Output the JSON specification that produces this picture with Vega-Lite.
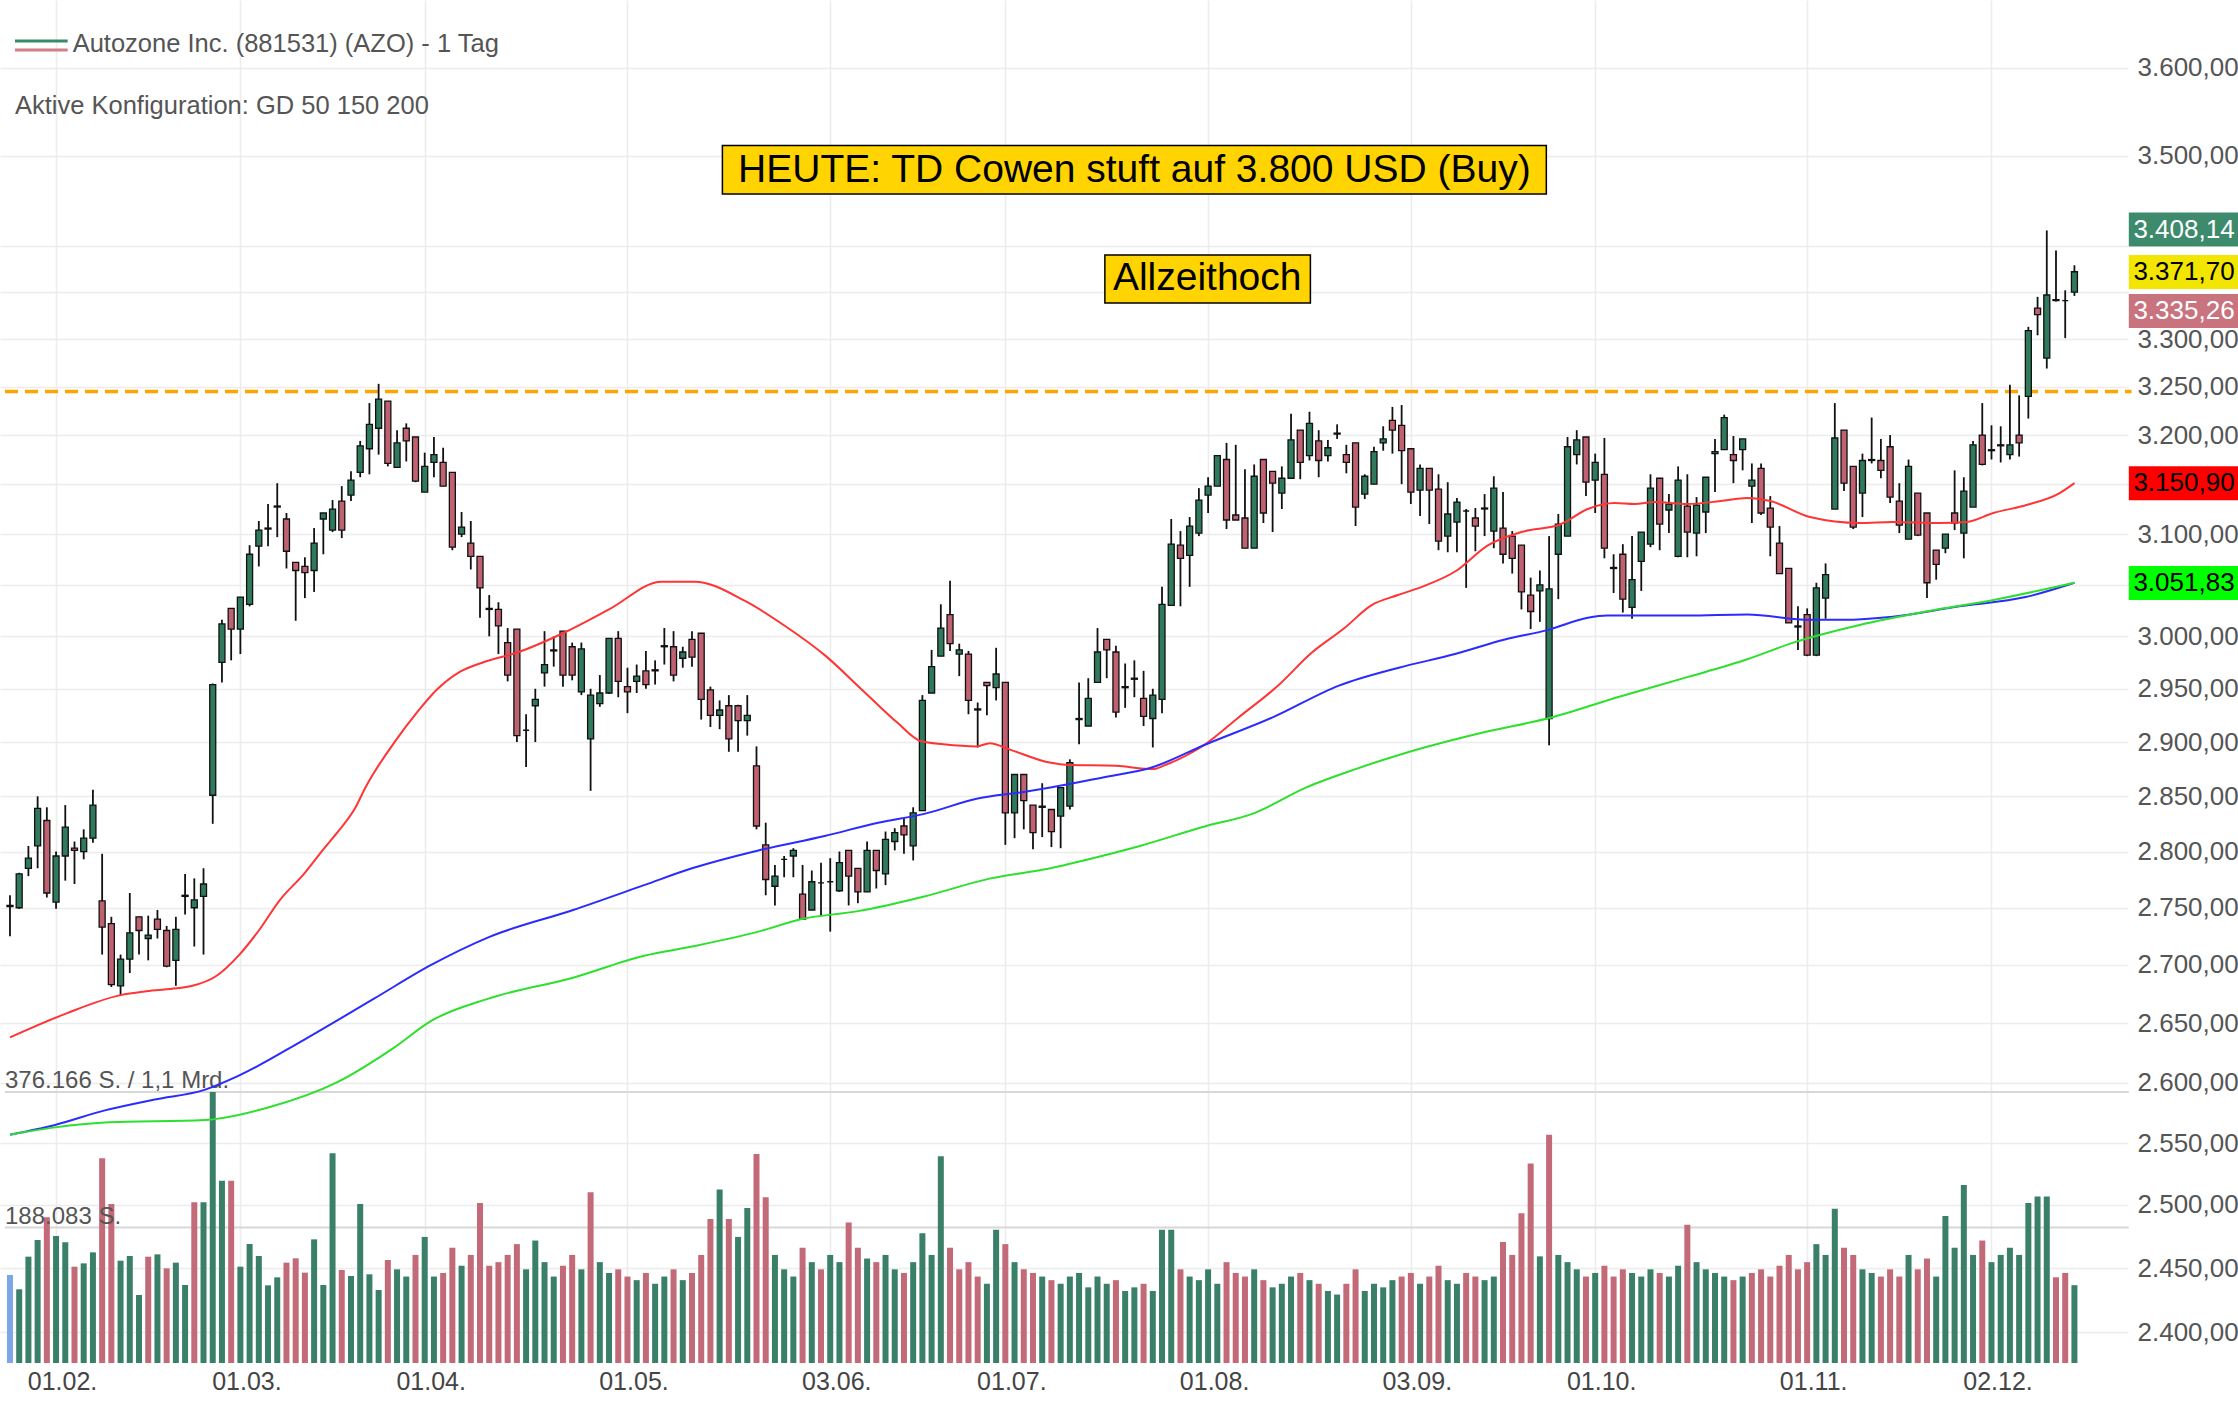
{
"$schema":"https://vega.github.io/schema/vega-lite/v6.json",
"width":2128,"height":1363,
"autosize":{"type":"none"},
"padding":{"left":0,"top":0,"right":110,"bottom":41},
"background":"white",
"config":{"view":{"stroke":null},"font":"Liberation Sans",
"locale":{"number":{"decimal":",","thousands":".","grouping":[3],"currency":["","\u00a0€"]}},
"axis":{"domain":false,"ticks":false,"gridColor":"#ececec","gridWidth":1.5,"labelFont":"Liberation Sans","labelFontSize":26}},
"datasets":{
"k":[
{"i":0,"o":2751,"h":2761,"l":2725,"c":2752,"v":122200,"vd":"n"},
{"i":1,"o":2750,"h":2781,"l":2749,"c":2780,"v":102300,"vd":"up"},
{"i":2,"o":2785,"h":2805,"l":2778,"c":2794,"v":147600,"vd":"up"},
{"i":3,"o":2805,"h":2850,"l":2785,"c":2839,"v":170700,"vd":"up"},
{"i":4,"o":2828,"h":2840,"l":2759,"c":2763,"v":202200,"vd":"dn"},
{"i":5,"o":2755,"h":2800,"l":2749,"c":2796,"v":176300,"vd":"up"},
{"i":6,"o":2796,"h":2842,"l":2774,"c":2822,"v":167500,"vd":"up"},
{"i":7,"o":2803,"h":2809,"l":2771,"c":2801,"v":133700,"vd":"dn"},
{"i":8,"o":2800,"h":2820,"l":2793,"c":2812,"v":138300,"vd":"up"},
{"i":9,"o":2812,"h":2856,"l":2808,"c":2842,"v":153600,"vd":"up"},
{"i":10,"o":2756,"h":2798,"l":2709,"c":2733,"v":284100,"vd":"dn"},
{"i":11,"o":2736,"h":2742,"l":2681,"c":2683,"v":220700,"vd":"dn"},
{"i":12,"o":2682,"h":2709,"l":2674,"c":2705,"v":142000,"vd":"up"},
{"i":13,"o":2705,"h":2763,"l":2693,"c":2728,"v":148500,"vd":"up"},
{"i":14,"o":2742,"h":2742,"l":2709,"c":2730,"v":94400,"vd":"up"},
{"i":15,"o":2723,"h":2743,"l":2704,"c":2726,"v":147600,"vd":"dn"},
{"i":16,"o":2740,"h":2748,"l":2723,"c":2731,"v":150800,"vd":"up"},
{"i":17,"o":2730,"h":2734,"l":2698,"c":2699,"v":131400,"vd":"dn"},
{"i":18,"o":2704,"h":2742,"l":2682,"c":2731,"v":139300,"vd":"up"},
{"i":19,"o":2760,"h":2780,"l":2744,"c":2761,"v":108300,"vd":"up"},
{"i":20,"o":2750,"h":2776,"l":2716,"c":2757,"v":223000,"vd":"dn"},
{"i":21,"o":2760,"h":2785,"l":2709,"c":2771,"v":223000,"vd":"up"},
{"i":22,"o":2851,"h":2955,"l":2825,"c":2954,"v":376166,"vd":"up"},
{"i":23,"o":2975,"h":3016,"l":2956,"c":3012,"v":253000,"vd":"up"},
{"i":24,"o":3027,"h":3027,"l":2977,"c":3007,"v":253000,"vd":"dn"},
{"i":25,"o":3007,"h":3038,"l":2983,"c":3038,"v":133700,"vd":"up"},
{"i":26,"o":3031,"h":3089,"l":3029,"c":3080,"v":165200,"vd":"up"},
{"i":27,"o":3088,"h":3113,"l":3068,"c":3104,"v":148500,"vd":"up"},
{"i":28,"o":3105,"h":3130,"l":3088,"c":3106,"v":107800,"vd":"up"},
{"i":29,"o":3127,"h":3151,"l":3097,"c":3128,"v":118900,"vd":"up"},
{"i":30,"o":3115,"h":3121,"l":3066,"c":3083,"v":139300,"vd":"dn"},
{"i":31,"o":3072,"h":3072,"l":3015,"c":3064,"v":145300,"vd":"dn"},
{"i":32,"o":3068,"h":3077,"l":3037,"c":3062,"v":125400,"vd":"dn"},
{"i":33,"o":3064,"h":3106,"l":3043,"c":3091,"v":171600,"vd":"up"},
{"i":34,"o":3115,"h":3121,"l":3080,"c":3121,"v":108300,"vd":"up"},
{"i":35,"o":3104,"h":3134,"l":3102,"c":3125,"v":291000,"vd":"up"},
{"i":36,"o":3133,"h":3148,"l":3096,"c":3104,"v":129100,"vd":"dn"},
{"i":37,"o":3139,"h":3163,"l":3133,"c":3154,"v":120800,"vd":"up"},
{"i":38,"o":3162,"h":3194,"l":3157,"c":3189,"v":220700,"vd":"up"},
{"i":39,"o":3186,"h":3233,"l":3160,"c":3211,"v":123100,"vd":"up"},
{"i":40,"o":3207,"h":3253,"l":3180,"c":3237,"v":101300,"vd":"up"},
{"i":41,"o":3235,"h":3235,"l":3168,"c":3171,"v":143000,"vd":"dn"},
{"i":42,"o":3167,"h":3205,"l":3167,"c":3192,"v":130000,"vd":"up"},
{"i":43,"o":3207,"h":3212,"l":3173,"c":3194,"v":120000,"vd":"up"},
{"i":44,"o":3198,"h":3198,"l":3152,"c":3153,"v":150000,"vd":"dn"},
{"i":45,"o":3142,"h":3182,"l":3142,"c":3168,"v":175000,"vd":"up"},
{"i":46,"o":3172,"h":3198,"l":3157,"c":3180,"v":120000,"vd":"up"},
{"i":47,"o":3172,"h":3187,"l":3148,"c":3148,"v":125000,"vd":"dn"},
{"i":48,"o":3162,"h":3162,"l":3084,"c":3087,"v":160000,"vd":"dn"},
{"i":49,"o":3100,"h":3122,"l":3097,"c":3107,"v":135000,"vd":"up"},
{"i":50,"o":3091,"h":3113,"l":3065,"c":3078,"v":150000,"vd":"dn"},
{"i":51,"o":3078,"h":3078,"l":3018,"c":3047,"v":222000,"vd":"dn"},
{"i":52,"o":3026,"h":3040,"l":3000,"c":3027,"v":135000,"vd":"dn"},
{"i":53,"o":3026,"h":3033,"l":2983,"c":3010,"v":140000,"vd":"dn"},
{"i":54,"o":2994,"h":3008,"l":2957,"c":2963,"v":150000,"vd":"dn"},
{"i":55,"o":3007,"h":3007,"l":2900,"c":2906,"v":165000,"vd":"dn"},
{"i":56,"o":2911,"h":2926,"l":2877,"c":2911,"v":130000,"vd":"up"},
{"i":57,"o":2934,"h":2950,"l":2900,"c":2940,"v":170000,"vd":"up"},
{"i":58,"o":2965,"h":3005,"l":2952,"c":2973,"v":140000,"vd":"up"},
{"i":59,"o":2986,"h":3000,"l":2971,"c":2987,"v":120000,"vd":"up"},
{"i":60,"o":3005,"h":3005,"l":2952,"c":2963,"v":135000,"vd":"dn"},
{"i":61,"o":2990,"h":2994,"l":2958,"c":2963,"v":150000,"vd":"dn"},
{"i":62,"o":2947,"h":2994,"l":2944,"c":2988,"v":130000,"vd":"up"},
{"i":63,"o":2903,"h":2950,"l":2855,"c":2944,"v":237000,"vd":"dn"},
{"i":64,"o":2936,"h":2963,"l":2933,"c":2946,"v":140000,"vd":"up"},
{"i":65,"o":2946,"h":2998,"l":2945,"c":2998,"v":125000,"vd":"up"},
{"i":66,"o":2998,"h":3005,"l":2942,"c":2957,"v":130000,"vd":"dn"},
{"i":67,"o":2952,"h":2970,"l":2927,"c":2947,"v":120000,"vd":"dn"},
{"i":68,"o":2957,"h":2973,"l":2946,"c":2962,"v":115000,"vd":"up"},
{"i":69,"o":2967,"h":2986,"l":2950,"c":2954,"v":125000,"vd":"dn"},
{"i":70,"o":2967,"h":2977,"l":2954,"c":2968,"v":110000,"vd":"up"},
{"i":71,"o":2990,"h":3008,"l":2973,"c":2991,"v":120000,"vd":"up"},
{"i":72,"o":2990,"h":3005,"l":2957,"c":2963,"v":130000,"vd":"dn"},
{"i":73,"o":2979,"h":2990,"l":2970,"c":2985,"v":115000,"vd":"up"},
{"i":74,"o":2997,"h":3005,"l":2971,"c":2980,"v":125000,"vd":"dn"},
{"i":75,"o":3003,"h":3003,"l":2921,"c":2940,"v":150000,"vd":"dn"},
{"i":76,"o":2949,"h":2952,"l":2914,"c":2925,"v":200000,"vd":"dn"},
{"i":77,"o":2925,"h":2939,"l":2912,"c":2930,"v":241000,"vd":"up"},
{"i":78,"o":2934,"h":2944,"l":2891,"c":2903,"v":200000,"vd":"dn"},
{"i":79,"o":2934,"h":2935,"l":2891,"c":2920,"v":175000,"vd":"up"},
{"i":80,"o":2920,"h":2944,"l":2906,"c":2925,"v":215000,"vd":"up"},
{"i":81,"o":2878,"h":2896,"l":2820,"c":2823,"v":290000,"vd":"dn"},
{"i":82,"o":2806,"h":2826,"l":2761,"c":2775,"v":230000,"vd":"dn"},
{"i":83,"o":2769,"h":2788,"l":2752,"c":2778,"v":150000,"vd":"up"},
{"i":84,"o":2793,"h":2796,"l":2777,"c":2793,"v":130000,"vd":"up"},
{"i":85,"o":2796,"h":2803,"l":2777,"c":2801,"v":120000,"vd":"up"},
{"i":86,"o":2762,"h":2788,"l":2740,"c":2740,"v":160000,"vd":"dn"},
{"i":87,"o":2748,"h":2783,"l":2748,"c":2773,"v":140000,"vd":"up"},
{"i":88,"o":2772,"h":2790,"l":2743,"c":2772,"v":130000,"vd":"dn"},
{"i":89,"o":2773,"h":2794,"l":2729,"c":2773,"v":150000,"vd":"up"},
{"i":90,"o":2765,"h":2800,"l":2764,"c":2790,"v":140000,"vd":"up"},
{"i":91,"o":2801,"h":2801,"l":2752,"c":2778,"v":195000,"vd":"dn"},
{"i":92,"o":2785,"h":2785,"l":2754,"c":2764,"v":160000,"vd":"dn"},
{"i":93,"o":2764,"h":2809,"l":2764,"c":2801,"v":145000,"vd":"up"},
{"i":94,"o":2801,"h":2801,"l":2767,"c":2783,"v":140000,"vd":"dn"},
{"i":95,"o":2780,"h":2818,"l":2770,"c":2811,"v":150000,"vd":"up"},
{"i":96,"o":2809,"h":2821,"l":2801,"c":2817,"v":130000,"vd":"up"},
{"i":97,"o":2823,"h":2830,"l":2798,"c":2815,"v":125000,"vd":"dn"},
{"i":98,"o":2805,"h":2840,"l":2792,"c":2835,"v":140000,"vd":"up"},
{"i":99,"o":2837,"h":2944,"l":2837,"c":2939,"v":180000,"vd":"up"},
{"i":100,"o":2946,"h":2987,"l":2946,"c":2971,"v":150000,"vd":"up"},
{"i":101,"o":2981,"h":3031,"l":2981,"c":3008,"v":287000,"vd":"up"},
{"i":102,"o":3021,"h":3054,"l":2986,"c":2993,"v":160000,"vd":"dn"},
{"i":103,"o":2983,"h":2993,"l":2962,"c":2987,"v":130000,"vd":"dn"},
{"i":104,"o":2983,"h":2986,"l":2926,"c":2939,"v":140000,"vd":"dn"},
{"i":105,"o":2930,"h":2937,"l":2895,"c":2931,"v":120000,"vd":"dn"},
{"i":106,"o":2956,"h":2956,"l":2925,"c":2953,"v":110000,"vd":"up"},
{"i":107,"o":2951,"h":2989,"l":2939,"c":2964,"v":185000,"vd":"up"},
{"i":108,"o":2956,"h":2956,"l":2806,"c":2835,"v":165000,"vd":"dn"},
{"i":109,"o":2835,"h":2870,"l":2812,"c":2870,"v":140000,"vd":"up"},
{"i":110,"o":2870,"h":2870,"l":2820,"c":2846,"v":130000,"vd":"dn"},
{"i":111,"o":2842,"h":2842,"l":2802,"c":2817,"v":125000,"vd":"dn"},
{"i":112,"o":2840,"h":2862,"l":2813,"c":2841,"v":120000,"vd":"up"},
{"i":113,"o":2838,"h":2838,"l":2804,"c":2818,"v":115000,"vd":"dn"},
{"i":114,"o":2832,"h":2858,"l":2803,"c":2858,"v":110000,"vd":"up"},
{"i":115,"o":2841,"h":2884,"l":2838,"c":2881,"v":120000,"vd":"up"},
{"i":116,"o":2921,"h":2956,"l":2898,"c":2922,"v":125000,"vd":"up"},
{"i":117,"o":2915,"h":2960,"l":2915,"c":2941,"v":105000,"vd":"up"},
{"i":118,"o":2956,"h":3008,"l":2956,"c":2985,"v":120000,"vd":"up"},
{"i":119,"o":2997,"h":2997,"l":2960,"c":2987,"v":110000,"vd":"up"},
{"i":120,"o":2985,"h":2991,"l":2923,"c":2928,"v":115000,"vd":"dn"},
{"i":121,"o":2951,"h":2974,"l":2932,"c":2952,"v":100000,"vd":"up"},
{"i":122,"o":2959,"h":2977,"l":2942,"c":2960,"v":105000,"vd":"up"},
{"i":123,"o":2941,"h":2967,"l":2915,"c":2924,"v":110000,"vd":"dn"},
{"i":124,"o":2922,"h":2950,"l":2895,"c":2944,"v":100000,"vd":"up"},
{"i":125,"o":2940,"h":3048,"l":2927,"c":3031,"v":185000,"vd":"up"},
{"i":126,"o":3030,"h":3115,"l":3030,"c":3090,"v":185000,"vd":"up"},
{"i":127,"o":3089,"h":3103,"l":3029,"c":3076,"v":130000,"vd":"dn"},
{"i":128,"o":3079,"h":3117,"l":3048,"c":3108,"v":120000,"vd":"up"},
{"i":129,"o":3101,"h":3146,"l":3098,"c":3134,"v":115000,"vd":"up"},
{"i":130,"o":3139,"h":3157,"l":3121,"c":3148,"v":130000,"vd":"up"},
{"i":131,"o":3148,"h":3179,"l":3148,"c":3179,"v":110000,"vd":"up"},
{"i":132,"o":3175,"h":3192,"l":3105,"c":3114,"v":140000,"vd":"dn"},
{"i":133,"o":3119,"h":3190,"l":3114,"c":3114,"v":125000,"vd":"dn"},
{"i":134,"o":3116,"h":3165,"l":3086,"c":3086,"v":120000,"vd":"dn"},
{"i":135,"o":3086,"h":3170,"l":3086,"c":3158,"v":130000,"vd":"up"},
{"i":136,"o":3175,"h":3175,"l":3111,"c":3121,"v":115000,"vd":"dn"},
{"i":137,"o":3163,"h":3163,"l":3102,"c":3151,"v":105000,"vd":"up"},
{"i":138,"o":3141,"h":3168,"l":3125,"c":3156,"v":110000,"vd":"up"},
{"i":139,"o":3156,"h":3222,"l":3156,"c":3195,"v":120000,"vd":"up"},
{"i":140,"o":3205,"h":3205,"l":3155,"c":3172,"v":125000,"vd":"dn"},
{"i":141,"o":3179,"h":3224,"l":3174,"c":3212,"v":115000,"vd":"up"},
{"i":142,"o":3194,"h":3205,"l":3157,"c":3174,"v":110000,"vd":"dn"},
{"i":143,"o":3179,"h":3195,"l":3173,"c":3187,"v":100000,"vd":"up"},
{"i":144,"o":3201,"h":3211,"l":3196,"c":3202,"v":95000,"vd":"up"},
{"i":145,"o":3180,"h":3190,"l":3161,"c":3172,"v":110000,"vd":"dn"},
{"i":146,"o":3192,"h":3192,"l":3108,"c":3127,"v":130000,"vd":"dn"},
{"i":147,"o":3140,"h":3160,"l":3135,"c":3158,"v":100000,"vd":"up"},
{"i":148,"o":3150,"h":3188,"l":3150,"c":3183,"v":110000,"vd":"up"},
{"i":149,"o":3192,"h":3209,"l":3184,"c":3196,"v":105000,"vd":"up"},
{"i":150,"o":3215,"h":3229,"l":3181,"c":3205,"v":115000,"vd":"up"},
{"i":151,"o":3210,"h":3231,"l":3150,"c":3184,"v":120000,"vd":"dn"},
{"i":152,"o":3186,"h":3186,"l":3130,"c":3142,"v":125000,"vd":"dn"},
{"i":153,"o":3144,"h":3170,"l":3118,"c":3166,"v":110000,"vd":"up"},
{"i":154,"o":3166,"h":3166,"l":3110,"c":3144,"v":120000,"vd":"dn"},
{"i":155,"o":3145,"h":3160,"l":3084,"c":3093,"v":135000,"vd":"dn"},
{"i":156,"o":3098,"h":3152,"l":3082,"c":3120,"v":115000,"vd":"up"},
{"i":157,"o":3112,"h":3136,"l":3082,"c":3132,"v":110000,"vd":"up"},
{"i":158,"o":3123,"h":3125,"l":3047,"c":3123,"v":125000,"vd":"dn"},
{"i":159,"o":3116,"h":3126,"l":3083,"c":3108,"v":120000,"vd":"dn"},
{"i":160,"o":3125,"h":3140,"l":3098,"c":3126,"v":115000,"vd":"up"},
{"i":161,"o":3103,"h":3158,"l":3086,"c":3146,"v":120000,"vd":"up"},
{"i":162,"o":3106,"h":3142,"l":3071,"c":3080,"v":168000,"vd":"dn"},
{"i":163,"o":3098,"h":3103,"l":3061,"c":3076,"v":150000,"vd":"dn"},
{"i":164,"o":3089,"h":3089,"l":3026,"c":3043,"v":208000,"vd":"dn"},
{"i":165,"o":3040,"h":3057,"l":3007,"c":3024,"v":277000,"vd":"dn"},
{"i":166,"o":3044,"h":3064,"l":3014,"c":3050,"v":148000,"vd":"up"},
{"i":167,"o":2922,"h":3098,"l":2897,"c":3046,"v":317000,"vd":"dn"},
{"i":168,"o":3080,"h":3120,"l":3036,"c":3110,"v":150000,"vd":"up"},
{"i":169,"o":3098,"h":3198,"l":3098,"c":3188,"v":140000,"vd":"up"},
{"i":170,"o":3180,"h":3205,"l":3170,"c":3195,"v":130000,"vd":"up"},
{"i":171,"o":3198,"h":3198,"l":3138,"c":3152,"v":120000,"vd":"dn"},
{"i":172,"o":3154,"h":3181,"l":3121,"c":3172,"v":125000,"vd":"up"},
{"i":173,"o":3160,"h":3197,"l":3076,"c":3086,"v":135000,"vd":"dn"},
{"i":174,"o":3066,"h":3080,"l":3042,"c":3067,"v":120000,"vd":"dn"},
{"i":175,"o":3080,"h":3090,"l":3023,"c":3036,"v":130000,"vd":"dn"},
{"i":176,"o":3028,"h":3098,"l":3017,"c":3055,"v":125000,"vd":"up"},
{"i":177,"o":3073,"h":3102,"l":3044,"c":3102,"v":120000,"vd":"up"},
{"i":178,"o":3090,"h":3160,"l":3087,"c":3146,"v":130000,"vd":"up"},
{"i":179,"o":3156,"h":3156,"l":3084,"c":3110,"v":125000,"vd":"dn"},
{"i":180,"o":3124,"h":3140,"l":3101,"c":3130,"v":120000,"vd":"up"},
{"i":181,"o":3078,"h":3168,"l":3077,"c":3154,"v":135000,"vd":"up"},
{"i":182,"o":3128,"h":3160,"l":3077,"c":3102,"v":192000,"vd":"dn"},
{"i":183,"o":3101,"h":3137,"l":3078,"c":3129,"v":140000,"vd":"up"},
{"i":184,"o":3122,"h":3157,"l":3101,"c":3157,"v":130000,"vd":"up"},
{"i":185,"o":3181,"h":3196,"l":3142,"c":3183,"v":125000,"vd":"up"},
{"i":186,"o":3185,"h":3221,"l":3185,"c":3218,"v":120000,"vd":"up"},
{"i":187,"o":3180,"h":3199,"l":3151,"c":3174,"v":115000,"vd":"dn"},
{"i":188,"o":3185,"h":3196,"l":3164,"c":3196,"v":120000,"vd":"up"},
{"i":189,"o":3148,"h":3171,"l":3111,"c":3154,"v":125000,"vd":"dn"},
{"i":190,"o":3166,"h":3171,"l":3119,"c":3121,"v":130000,"vd":"dn"},
{"i":191,"o":3126,"h":3138,"l":3078,"c":3107,"v":120000,"vd":"dn"},
{"i":192,"o":3091,"h":3108,"l":3061,"c":3061,"v":135000,"vd":"dn"},
{"i":193,"o":3066,"h":3066,"l":3013,"c":3013,"v":150000,"vd":"dn"},
{"i":194,"o":3009,"h":3029,"l":2987,"c":3010,"v":130000,"vd":"dn"},
{"i":195,"o":3021,"h":3027,"l":2981,"c":2982,"v":140000,"vd":"dn"},
{"i":196,"o":2982,"h":3052,"l":2981,"c":3047,"v":165000,"vd":"up"},
{"i":197,"o":3037,"h":3071,"l":3017,"c":3060,"v":150000,"vd":"up"},
{"i":198,"o":3125,"h":3233,"l":3125,"c":3197,"v":214000,"vd":"up"},
{"i":199,"o":3205,"h":3205,"l":3143,"c":3151,"v":160000,"vd":"dn"},
{"i":200,"o":3168,"h":3168,"l":3105,"c":3107,"v":150000,"vd":"dn"},
{"i":201,"o":3141,"h":3181,"l":3117,"c":3174,"v":130000,"vd":"up"},
{"i":202,"o":3174,"h":3218,"l":3171,"c":3175,"v":125000,"vd":"up"},
{"i":203,"o":3174,"h":3196,"l":3156,"c":3164,"v":120000,"vd":"dn"},
{"i":204,"o":3188,"h":3200,"l":3131,"c":3137,"v":130000,"vd":"dn"},
{"i":205,"o":3133,"h":3151,"l":3101,"c":3109,"v":120000,"vd":"dn"},
{"i":206,"o":3095,"h":3175,"l":3095,"c":3168,"v":150000,"vd":"up"},
{"i":207,"o":3141,"h":3141,"l":3098,"c":3099,"v":130000,"vd":"dn"},
{"i":208,"o":3121,"h":3121,"l":3037,"c":3052,"v":145000,"vd":"dn"},
{"i":209,"o":3084,"h":3084,"l":3055,"c":3070,"v":120000,"vd":"up"},
{"i":210,"o":3086,"h":3100,"l":3081,"c":3100,"v":204000,"vd":"up"},
{"i":211,"o":3121,"h":3164,"l":3104,"c":3111,"v":160000,"vd":"up"},
{"i":212,"o":3101,"h":3157,"l":3076,"c":3143,"v":247000,"vd":"up"},
{"i":213,"o":3127,"h":3194,"l":3127,"c":3190,"v":150000,"vd":"up"},
{"i":214,"o":3200,"h":3233,"l":3169,"c":3170,"v":170000,"vd":"dn"},
{"i":215,"o":3184,"h":3210,"l":3175,"c":3185,"v":140000,"vd":"up"},
{"i":216,"o":3190,"h":3209,"l":3172,"c":3189,"v":150000,"vd":"up"},
{"i":217,"o":3180,"h":3252,"l":3175,"c":3190,"v":160000,"vd":"up"},
{"i":218,"o":3200,"h":3241,"l":3178,"c":3192,"v":150000,"vd":"up"},
{"i":219,"o":3240,"h":3313,"l":3217,"c":3309,"v":222000,"vd":"up"},
{"i":220,"o":3333,"h":3345,"l":3304,"c":3326,"v":231000,"vd":"up"},
{"i":221,"o":3280,"h":3417,"l":3269,"c":3347,"v":231000,"vd":"up"},
{"i":222,"o":3342,"h":3395,"l":3340,"c":3341,"v":119000,"vd":"dn"},
{"i":223,"o":3341,"h":3352,"l":3301,"c":3341,"v":125000,"vd":"dn"},
{"i":224,"o":3350,"h":3379,"l":3346,"c":3372,"v":108000,"vd":"up"}
],
"ma":[
{"m":"GD50","i":0,"p":2638},{"m":"GD50","i":6,"p":2658},{"m":"GD50","i":12,"p":2674},{"m":"GD50","i":14.5,"p":2677},{"m":"GD50","i":17,"p":2679},{"m":"GD50","i":19.8,"p":2682},{"m":"GD50","i":22.3,"p":2690},{"m":"GD50","i":24.9,"p":2709},{"m":"GD50","i":27,"p":2730},{"m":"GD50","i":29.3,"p":2757},{"m":"GD50","i":31.9,"p":2780},{"m":"GD50","i":34,"p":2802},{"m":"GD50","i":35.5,"p":2817},{"m":"GD50","i":37.5,"p":2840},{"m":"GD50","i":38.5,"p":2857},{"m":"GD50","i":41.9,"p":2902},{"m":"GD50","i":44.1,"p":2927},{"m":"GD50","i":46.3,"p":2949},{"m":"GD50","i":48.8,"p":2966},{"m":"GD50","i":51.3,"p":2975},{"m":"GD50","i":55.2,"p":2985},{"m":"GD50","i":60,"p":3003},{"m":"GD50","i":65,"p":3026},{"m":"GD50","i":70.7,"p":3053},{"m":"GD50","i":74.3,"p":3053},{"m":"GD50","i":79.8,"p":3034},{"m":"GD50","i":84.1,"p":3010},{"m":"GD50","i":88.4,"p":2982},{"m":"GD50","i":92.7,"p":2947},{"m":"GD50","i":96.3,"p":2918},{"m":"GD50","i":98.8,"p":2901},{"m":"GD50","i":101.3,"p":2898},{"m":"GD50","i":104.9,"p":2896},{"m":"GD50","i":106.3,"p":2899},{"m":"GD50","i":108.5,"p":2893},{"m":"GD50","i":112.8,"p":2881},{"m":"GD50","i":114.6,"p":2879},{"m":"GD50","i":120,"p":2878},{"m":"GD50","i":124,"p":2875},{"m":"GD50","i":125.4,"p":2879},{"m":"GD50","i":129.7,"p":2898},{"m":"GD50","i":133.3,"p":2923},{"m":"GD50","i":137.6,"p":2953},{"m":"GD50","i":141.2,"p":2984},{"m":"GD50","i":144.8,"p":3008},{"m":"GD50","i":147.7,"p":3030},{"m":"GD50","i":150.6,"p":3040},{"m":"GD50","i":153.2,"p":3048},{"m":"GD50","i":156.8,"p":3063},{"m":"GD50","i":160.4,"p":3089},{"m":"GD50","i":164,"p":3102},{"m":"GD50","i":168.3,"p":3110},{"m":"GD50","i":171.2,"p":3125},{"m":"GD50","i":174.1,"p":3131},{"m":"GD50","i":176.3,"p":3130},{"m":"GD50","i":178.4,"p":3132},{"m":"GD50","i":182,"p":3130},{"m":"GD50","i":185.6,"p":3133},{"m":"GD50","i":188.5,"p":3136},{"m":"GD50","i":191,"p":3133},{"m":"GD50","i":195.3,"p":3117},{"m":"GD50","i":200.7,"p":3111},{"m":"GD50","i":204.3,"p":3112},{"m":"GD50","i":209.4,"p":3111},{"m":"GD50","i":212.3,"p":3112},{"m":"GD50","i":215.2,"p":3121},{"m":"GD50","i":218.8,"p":3129},{"m":"GD50","i":222.4,"p":3141},{"m":"GD50","i":224,"p":3151},
{"m":"GD150","i":0,"p":2557},{"m":"GD150","i":4.9,"p":2565},{"m":"GD150","i":10.3,"p":2577},{"m":"GD150","i":15.7,"p":2586},{"m":"GD150","i":21.1,"p":2594},{"m":"GD150","i":24.6,"p":2605},{"m":"GD150","i":31.9,"p":2636},{"m":"GD150","i":39.5,"p":2671},{"m":"GD150","i":45.7,"p":2700},{"m":"GD150","i":51.9,"p":2724},{"m":"GD150","i":61.1,"p":2748},{"m":"GD150","i":68.8,"p":2770},{"m":"GD150","i":74,"p":2785},{"m":"GD150","i":81.2,"p":2801},{"m":"GD150","i":88.4,"p":2814},{"m":"GD150","i":94.2,"p":2826},{"m":"GD150","i":99.2,"p":2834},{"m":"GD150","i":105,"p":2848},{"m":"GD150","i":110,"p":2854},{"m":"GD150","i":112.9,"p":2858},{"m":"GD150","i":119,"p":2868},{"m":"GD150","i":123.7,"p":2876},{"m":"GD150","i":129.8,"p":2898},{"m":"GD150","i":137,"p":2923},{"m":"GD150","i":144.2,"p":2953},{"m":"GD150","i":150.7,"p":2970},{"m":"GD150","i":156.8,"p":2983},{"m":"GD150","i":162.2,"p":2997},{"m":"GD150","i":166.8,"p":3006},{"m":"GD150","i":171.2,"p":3018},{"m":"GD150","i":173.3,"p":3020},{"m":"GD150","i":182,"p":3020},{"m":"GD150","i":188.5,"p":3021},{"m":"GD150","i":195.3,"p":3016},{"m":"GD150","i":198.9,"p":3016},{"m":"GD150","i":204.3,"p":3019},{"m":"GD150","i":211.5,"p":3029},{"m":"GD150","i":218.7,"p":3038},{"m":"GD150","i":224,"p":3052},
{"m":"GD200","i":0,"p":2557},{"m":"GD200","i":4.9,"p":2563},{"m":"GD200","i":10.3,"p":2567},{"m":"GD200","i":21.1,"p":2569},{"m":"GD200","i":28.3,"p":2580},{"m":"GD200","i":35.4,"p":2600},{"m":"GD200","i":41.6,"p":2629},{"m":"GD200","i":45.7,"p":2652},{"m":"GD200","i":51.9,"p":2671},{"m":"GD200","i":61.1,"p":2689},{"m":"GD200","i":68.8,"p":2708},{"m":"GD200","i":74,"p":2716},{"m":"GD200","i":81.2,"p":2729},{"m":"GD200","i":85.9,"p":2740},{"m":"GD200","i":92,"p":2747},{"m":"GD200","i":99.2,"p":2760},{"m":"GD200","i":106.4,"p":2776},{"m":"GD200","i":112.9,"p":2785},{"m":"GD200","i":116.5,"p":2792},{"m":"GD200","i":122.6,"p":2805},{"m":"GD200","i":129.8,"p":2823},{"m":"GD200","i":134.8,"p":2834},{"m":"GD200","i":140.6,"p":2858},{"m":"GD200","i":146,"p":2875},{"m":"GD200","i":150.7,"p":2888},{"m":"GD200","i":160.4,"p":2910},{"m":"GD200","i":166.8,"p":2922},{"m":"GD200","i":174.8,"p":2943},{"m":"GD200","i":182,"p":2961},{"m":"GD200","i":188.5,"p":2978},{"m":"GD200","i":193.5,"p":2994},{"m":"GD200","i":200.7,"p":3011},{"m":"GD200","i":207.9,"p":3024},{"m":"GD200","i":215.1,"p":3035},{"m":"GD200","i":224,"p":3052}
],
"tags":[
{"k":"hi","p":3408.14},{"k":"last","p":3371.70},{"k":"lo","p":3335.26},{"k":"gd50","p":3150.90},{"k":"gd200","p":3051.83}
]
},
"layer":[
{
"data":{"name":"k"},
"layer":[
{"data":{"values":[{"v":376166,"t":"376.166 S. / 1,1 Mrd."},{"v":188083,"t":"188.083 S."}]},
 "mark":{"type":"rule","color":"#d8d8d8","strokeWidth":2},
 "encoding":{"x":{"datum":-0.54,"type":"quantitative"},"x2":{"datum":229.9},
  "y":{"field":"v","type":"quantitative","axis":null,"title":null}}},
{"mark":{"type":"bar","width":6},
 "encoding":{
  "x":{"field":"i","type":"quantitative","title":null,"scale":{"domain":[-0.54,229.27],"nice":false,"zero":false},
   "axis":{"orient":"bottom","values":[5,25,45,67,89,108,130,152,172,195,215],"grid":true,"labelColor":"#444","labelPadding":6,"labelOffset":6,"labelFlush":false,"labelOverlap":false,"labelFontSize":25,"title":null,
    "labelExpr":"datum.value==5?'01.02.':datum.value==25?'01.03.':datum.value==45?'01.04.':datum.value==67?'01.05.':datum.value==89?'03.06.':datum.value==108?'01.07.':datum.value==130?'01.08.':datum.value==152?'03.09.':datum.value==172?'01.10.':datum.value==195?'01.11.':datum.value==215?'02.12.':''"}},
  "y":{"field":"v","type":"quantitative","title":null,"axis":null,"scale":{"domain":[0,1891940],"nice":false,"zero":true}},
  "fill":{"condition":[{"test":"datum.vd=='dn'","value":"#c26a77"},{"test":"datum.vd=='n'","value":"#7ca6e8"}],"value":"#3a7f67"}}},
{"data":{"values":[{"v":376166,"t":"376.166 S. / 1,1 Mrd."},{"v":188083,"t":"188.083 S."}]},
 "mark":{"type":"text","align":"left","baseline":"alphabetic","dy":-4,"fontSize":24,"color":"#555"},
 "encoding":{"x":{"datum":-0.54,"type":"quantitative"},"y":{"field":"v","type":"quantitative","axis":null,"title":null},"text":{"field":"t"}}}
]
},
{
"layer":[
{"data":{"values":[{}]},
 "mark":{"type":"rule","color":"#ffa500","strokeWidth":3.5,"strokeDash":[13,7]},
 "encoding":{"x":{"datum":-0.54,"type":"quantitative"},"x2":{"datum":230.2},
  "y":{"datum":3245,"type":"quantitative","title":null,
   "scale":{"type":"log","domain":[2376.5,3679.0],"nice":false,"zero":false},
   "axis":{"orient":"right","values":[2400,2450,2500,2550,2600,2650,2700,2750,2800,2850,2900,2950,3000,3050,3100,3150,3200,3250,3300,3350,3400,3500,3600],
    "format":",.2f","labelExpr":"datum.value==3350||datum.value==3400?'':datum.label","grid":true,"labelColor":"#555","labelPadding":9,"labelOverlap":false,"labelFontSize":26,"title":null}}}},
{"data":{"name":"k"},
 "mark":{"type":"rule","color":"#111","strokeWidth":1.8},
 "encoding":{"x":{"field":"i","type":"quantitative","title":null},"y":{"field":"l","type":"quantitative","title":null},"y2":{"field":"h"}}},
{"data":{"name":"k"},
 "mark":{"type":"bar","width":6,"stroke":"#111","strokeWidth":1.3},
 "encoding":{"x":{"field":"i","type":"quantitative","title":null},"y":{"field":"o","type":"quantitative","title":null},"y2":{"field":"c"},
  "fill":{"condition":{"test":"datum.c>=datum.o","value":"#2f7a5c"},"value":"#bf6170"}}},
{"data":{"name":"ma"},
 "mark":{"type":"line","strokeWidth":2,"interpolate":"monotone"},
 "encoding":{"x":{"field":"i","type":"quantitative","title":null},"y":{"field":"p","type":"quantitative","title":null},
  "detail":{"field":"m"},
  "stroke":{"field":"m","type":"nominal","legend":null,"scale":{"domain":["GD50","GD150","GD200"],"range":["#ff3535","#2b2bff","#2de02d"]}}}},
{"data":{"values":[{"k":"g","p":3631},{"k":"r","p":3620.5}]},
 "mark":{"type":"rule","strokeWidth":3},
 "encoding":{"x":{"datum":0.54,"type":"quantitative"},"x2":{"datum":6.26},"y":{"field":"p","type":"quantitative","title":null},
  "color":{"field":"k","type":"nominal","legend":null,"scale":{"domain":["g","r"],"range":["#3a8a6a","#d47c88"]}}}},
{"data":{"values":[{"t":"Autozone Inc. (881531) (AZO) - 1 Tag","x":6.8,"p":3627.5},{"t":"Aktive Konfiguration: GD 50 150 200","x":0.54,"p":3556.1}]},
 "mark":{"type":"text","align":"left","baseline":"middle","fontSize":25.5,"color":"#555"},
 "encoding":{"x":{"field":"x","type":"quantitative","title":null},"y":{"field":"p","type":"quantitative","title":null},"text":{"field":"t"}}},
{"data":{"values":[{"x":77.3,"x2":166.7,"y":3511.2,"y2":3457.0},{"x":118.8,"x2":141.1,"y":3390.2,"y2":3338.4}]},
 "mark":{"type":"rect","fill":"#ffd400","stroke":"#000","strokeWidth":1.5},
 "encoding":{"x":{"field":"x","type":"quantitative","title":null},"x2":{"field":"x2"},"y":{"field":"y","type":"quantitative","title":null},"y2":{"field":"y2"}}},
{"data":{"values":[{"t":"HEUTE: TD Cowen stuft auf 3.800 USD (Buy)","x":122.0,"p":3483.8},{"t":"Allzeithoch","x":129.9,"p":3365.2}]},
 "mark":{"type":"text","align":"center","baseline":"middle","fontSize":39,"color":"#000"},
 "encoding":{"x":{"field":"x","type":"quantitative","title":null},"y":{"field":"p","type":"quantitative","title":null},"text":{"field":"t"}}},
{"data":{"name":"tags"},
 "mark":{"type":"rule","strokeWidth":34,"strokeCap":"butt","yOffset":{"expr":"datum.k=='hi'?-9:(datum.k=='lo'?5:0)"}},
 "encoding":{"x":{"datum":229.9,"type":"quantitative"},"x2":{"datum":242},"y":{"field":"p","type":"quantitative","title":null},
  "stroke":{"field":"k","type":"nominal","legend":null,"scale":{"domain":["hi","last","lo","gd50","gd200"],"range":["#3d8a6c","#f2e600","#c9737f","#ff0000","#00ff00"]}}}},
{"data":{"name":"tags"},
 "mark":{"type":"text","align":"left","baseline":"middle","fontSize":26,"yOffset":{"expr":"datum.k=='hi'?-9:(datum.k=='lo'?5:0)"}},
 "encoding":{"x":{"datum":230.4,"type":"quantitative"},"y":{"field":"p","type":"quantitative","title":null},
  "text":{"field":"p","type":"quantitative","format":",.2f"},
  "fill":{"field":"k","type":"nominal","legend":null,"scale":{"domain":["hi","last","lo","gd50","gd200"],"range":["#ffffff","#000000","#ffffff","#000000","#000000"]}}}}
],
"resolve":{"scale":{"stroke":"independent","fill":"independent","color":"independent"}}
}
],
"resolve":{"scale":{"y":"independent"}}
}
